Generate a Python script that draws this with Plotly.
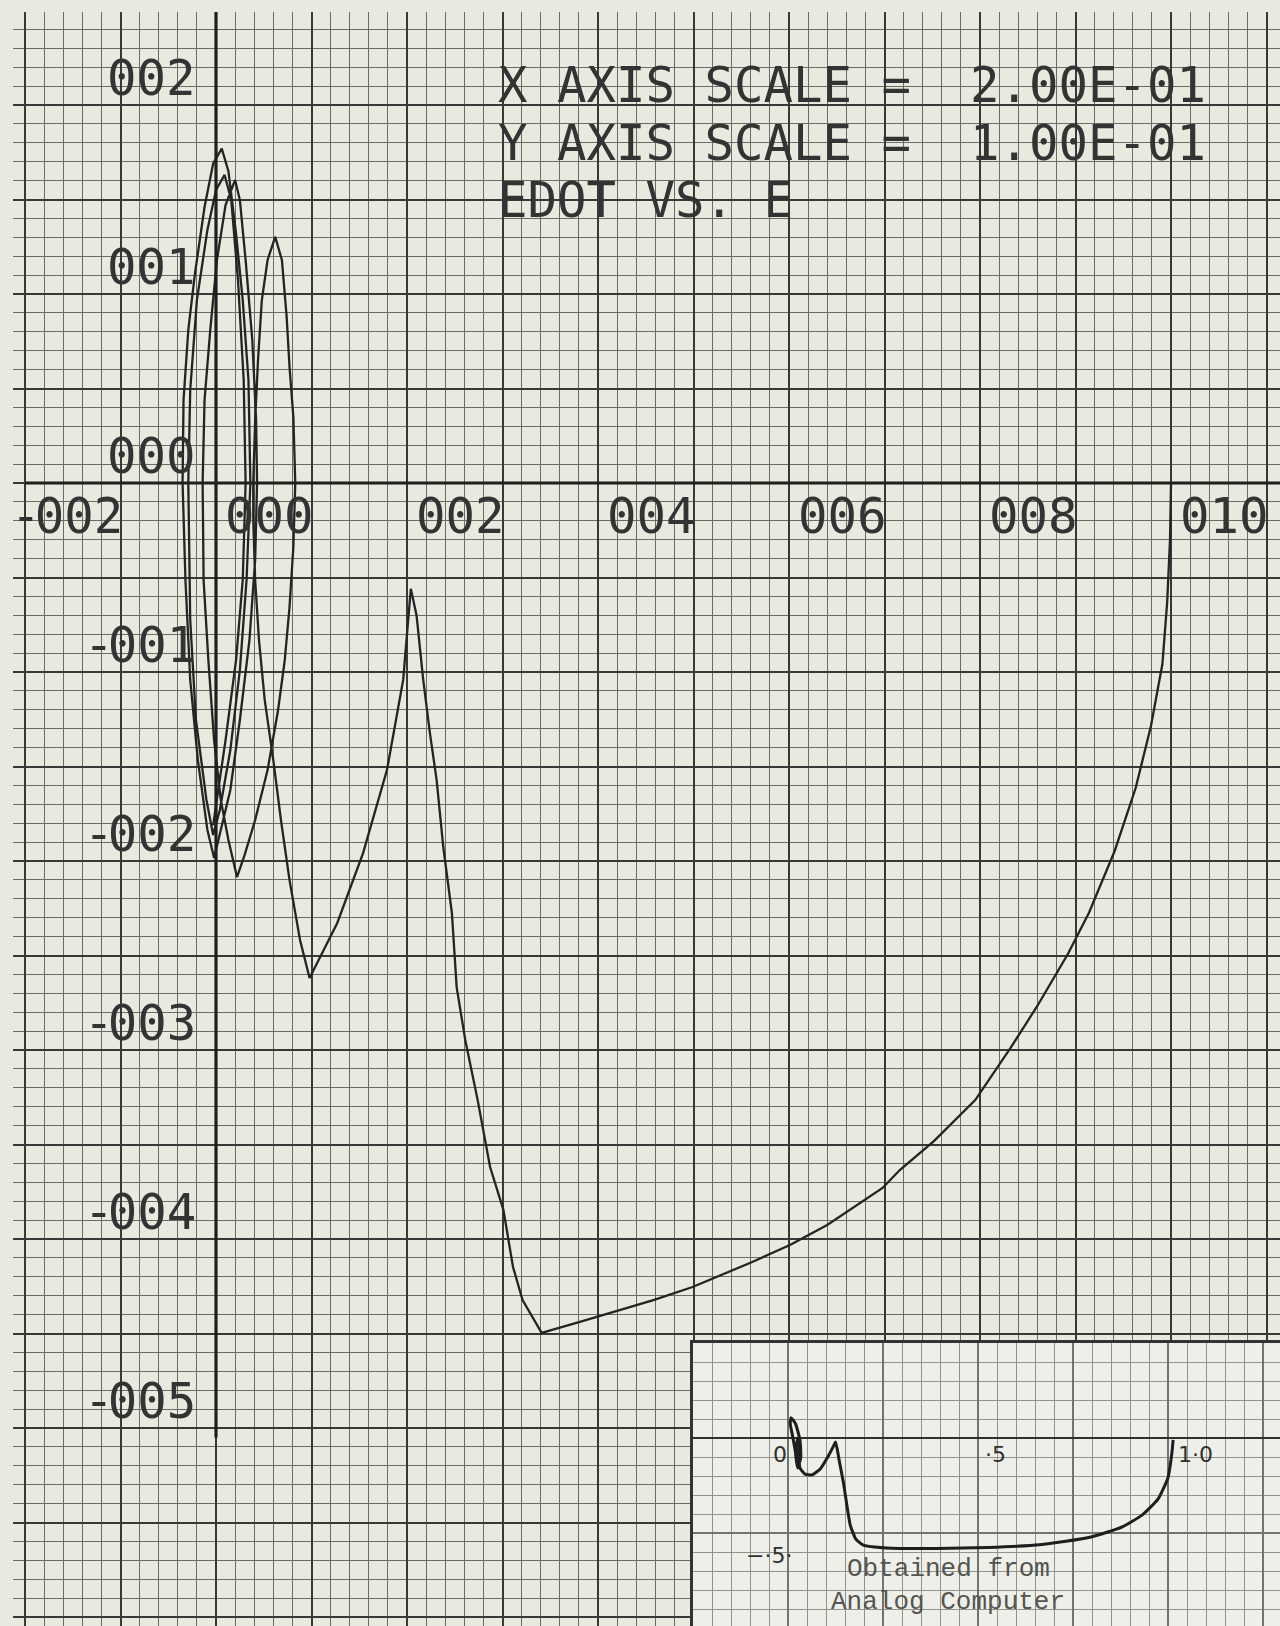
import plotly.graph_objects as go

# ---------------------------------------------------------------
# Phase-plane trace EDOT vs. E (digital plotter output)
# ---------------------------------------------------------------
e_vals = [
    1.000, 0.999, 0.996, 0.991, 0.979, 0.963, 0.941, 0.914, 0.892, 0.860,
    0.832, 0.795, 0.752, 0.716, 0.698, 0.640, 0.601, 0.559, 0.499, 0.458,
    0.381, 0.341,
    0.321, 0.311, 0.301, 0.287, 0.274, 0.261, 0.252, 0.247, 0.238, 0.231,
    0.224, 0.217, 0.210, 0.204,
    0.200, 0.196, 0.179, 0.154, 0.127, 0.098,
    0.088, 0.077, 0.068, 0.060, 0.051, 0.045, 0.041, 0.039, 0.039, 0.041,
    0.044, 0.048, 0.054, 0.062,
    0.069, 0.074, 0.077, 0.081, 0.083, 0.081, 0.077, 0.072, 0.065, 0.054,
    0.041, 0.030, 0.022,
    0.013, 0.005, -0.002, -0.008, -0.013, -0.014, -0.012, -0.006, 0.001,
    0.010, 0.020,
    0.025, 0.031, 0.038, 0.042, 0.043, 0.041, 0.035, 0.025, 0.015, 0.004,
    -0.002,
    -0.009, -0.019, -0.027, -0.032, -0.035, -0.034, -0.029, -0.022, -0.012,
    -0.003, 0.006,
    0.013, 0.021, 0.028, 0.034, 0.036, 0.032, 0.025, 0.015, 0.004, -0.003,
    -0.010, -0.021, -0.027, -0.029, -0.027, -0.020, -0.009, 0.000, 0.009,
    0.016, 0.023, 0.029, 0.031, 0.028, 0.021, 0.010, 0.001, -0.003,
]
edot_vals = [
    0.0000, -0.0296, -0.0630, -0.0958, -0.1286, -0.1614, -0.1947, -0.2275,
    -0.2492, -0.2767, -0.2989, -0.3265, -0.3481, -0.3635, -0.3730, -0.3926,
    -0.4032, -0.4127, -0.4254, -0.4323, -0.4439, -0.4497,
    -0.4323, -0.4148, -0.3847, -0.3619, -0.3265, -0.2947, -0.2667, -0.2275,
    -0.1926, -0.1571, -0.1323, -0.1042, -0.0700, -0.0560,
    -0.0800, -0.1042, -0.1519, -0.1958, -0.2328, -0.2619,
    -0.2418, -0.2101, -0.1783, -0.1466, -0.1148, -0.0831, -0.0513, -0.0196,
    0.0000, 0.0333, 0.0651, 0.0968, 0.1180, 0.1302,
    0.1180, 0.0878, 0.0614, 0.0349, 0.0000, -0.0339, -0.0656, -0.0937,
    -0.1201, -0.1519, -0.1783, -0.1968, -0.2085,
    -0.1889, -0.1677, -0.1360, -0.0937, -0.0513, 0.0000, 0.0439, 0.0810,
    0.1180, 0.1471, 0.1603,
    0.1497, 0.1180, 0.0757, 0.0333, 0.0000, -0.0407, -0.0831, -0.1254,
    -0.1624, -0.1862, -0.1984,
    -0.1836, -0.1466, -0.1042, -0.0513, 0.0000, 0.0439, 0.0810, 0.1110,
    0.1460, 0.1690, 0.1770,
    0.1650, 0.1320, 0.0968, 0.0545, 0.0000, -0.0513, -0.0989, -0.1413,
    -0.1730, -0.1862,
    -0.1677, -0.1254, -0.0725, 0.0000, 0.0492, 0.0968, 0.1339, 0.1550,
    0.1630,
    0.1497, 0.1074, 0.0545, 0.0000, -0.0513, -0.0937, -0.1360, -0.1677,
    -0.1810,
]

# axis annotation of the plotter
x_tick_vals = [-0.2, 0.0, 0.2, 0.4, 0.6, 0.8, 1.0]
x_tick_text = ["-002", "000", "002", "004", "006", "008", "010"]
y_tick_vals = [0.2, 0.1, 0.0, -0.1, -0.2, -0.3, -0.4, -0.5]
y_tick_text = ["002", "001", "000", "-001", "-002", "-003", "-004", "-005"]
header_lines = ["X AXIS SCALE =  2.00E-01",
                "Y AXIS SCALE =  1.00E-01",
                "EDOT VS. E"]

# ---------------------------------------------------------------
# Analog computer trace (pasted-in sketch)
# ---------------------------------------------------------------
analog_e = [0.012, 0.004, -0.004, -0.010, -0.008, 0.004, 0.016, 0.018,
            0.010, 0.004, 0.010, 0.016, 0.030, 0.048, 0.070, 0.090, 0.105,
            0.111, 0.120, 0.132, 0.150, 0.165, 0.185, 0.247, 0.380, 0.518,
            0.655, 0.792, 0.874, 0.929, 0.971, 0.997, 1.008, 1.011]
analog_edot = [-0.126, -0.060, 0.010, 0.060, 0.085, 0.060, -0.010, -0.080,
               -0.126, -0.060, 0.000, -0.126, -0.152, -0.155, -0.130,
               -0.080, -0.035, -0.017, -0.090, -0.189, -0.366, -0.425,
               -0.450, -0.462, -0.464, -0.460, -0.449, -0.416, -0.374,
               -0.323, -0.256, -0.168, -0.059, -0.008]
analog_x_labels = [(0.0, "0"), (0.5, "·5"), (1.0, "1·0")]
analog_y_labels = [(-0.5, "−·5·")]
analog_caption = ["Obtained from", "Analog Computer"]

# ---------------------------------------------------------------
# page geometry (pixels)
# ---------------------------------------------------------------
W, H = 1280, 1626
ML, MT = 13, 12
ORIGIN_X, ORIGIN_Y = 216, 483          # pixel of (0, 0)
PX_PER_X, PX_PER_Y = 955.0, 1890.0     # pixels per data unit
x_lo = (ML - ORIGIN_X) / PX_PER_X
x_hi = (W - ORIGIN_X) / PX_PER_X
y_hi = (ORIGIN_Y - MT) / PX_PER_Y
y_lo = (ORIGIN_Y - H) / PX_PER_Y

INSET_L, INSET_T = 693, 1343
IN_X0, IN_Y0 = 794, 1438
IN_PX_X, IN_PX_Y = 375.0, 238.0
IN_GRID_X0 = 788                       # a major line of the pasted sheet
plot_w, plot_h = W - ML, H - MT


def paper_x(px):
    return (px - ML) / plot_w


def paper_y(py):
    return (H - py) / plot_h


def plotter_text(t):
    # the plotter's minus is a short dash tucked against the digits
    t = t.replace(" ", "&nbsp;")
    if t.startswith("-"):
        t = '<span style="font-family:DejaVu Sans">-</span>' + t[1:]
    return t


PAPER = "#e8e9df"
INSET_PAPER = "#eeefe8"
INK = "#242424"
MAJOR = "#383836"
MINOR = "#6a6b65"

fig = go.Figure()

fig.add_trace(go.Scatter(
    x=e_vals, y=edot_vals, mode="lines",
    line=dict(color=INK, width=2.3),
    xaxis="x", yaxis="y", hoverinfo="skip", showlegend=False))

fig.add_trace(go.Scatter(
    x=analog_e, y=analog_edot, mode="lines",
    line=dict(color="#1e1e1e", width=3.0, shape="spline", smoothing=0.5),
    xaxis="x2", yaxis="y2", hoverinfo="skip", showlegend=False))

fig.update_layout(
    width=W, height=H,
    margin=dict(l=ML, r=0, t=MT, b=0, pad=0),
    paper_bgcolor=PAPER,
    plot_bgcolor=INSET_PAPER,
    showlegend=False,
    xaxis=dict(
        domain=[0, 1], range=[x_lo, x_hi], anchor="y",
        showgrid=True, gridcolor=MAJOR, gridwidth=2.2,
        tick0=0, dtick=0.1, zeroline=False, showticklabels=False,
        ticks="", showline=False,
        minor=dict(showgrid=True, gridcolor=MINOR, gridwidth=1.2,
                   tick0=0, dtick=0.02, ticks=""),
    ),
    yaxis=dict(
        domain=[0, 1], range=[y_lo, y_hi], anchor="x",
        showgrid=True, gridcolor=MAJOR, gridwidth=2.2,
        tick0=0, dtick=0.05, zeroline=False, showticklabels=False,
        ticks="", showline=False,
        minor=dict(showgrid=True, gridcolor=MINOR, gridwidth=1.2,
                   tick0=0, dtick=0.01, ticks=""),
    ),
    xaxis2=dict(
        domain=[paper_x(INSET_L), 1], anchor="y2",
        range=[(INSET_L - IN_X0) / IN_PX_X, (W - IN_X0) / IN_PX_X],
        showgrid=True, gridcolor="#72736d", gridwidth=1.6,
        tick0=(IN_GRID_X0 - IN_X0) / IN_PX_X, dtick=95 / IN_PX_X,
        zeroline=False, showticklabels=False,
        ticks="", side="top", showline=True, linecolor="#333", linewidth=2.5,
        minor=dict(showgrid=True, gridcolor="#92938d", gridwidth=1.0,
                   tick0=(IN_GRID_X0 - IN_X0) / IN_PX_X,
                   dtick=19 / IN_PX_X, ticks=""),
    ),
    yaxis2=dict(
        domain=[0, paper_y(INSET_T)], anchor="x2",
        range=[(IN_Y0 - H) / IN_PX_Y, (IN_Y0 - INSET_T) / IN_PX_Y],
        showgrid=True, gridcolor="#72736d", gridwidth=1.6,
        tick0=0, dtick=95 / IN_PX_Y, zeroline=True, zerolinecolor="#2e2e2e",
        zerolinewidth=2.2, showticklabels=False, ticks="", side="left",
        showline=True, linecolor="#333", linewidth=2.5,
        minor=dict(showgrid=True, gridcolor="#92938d", gridwidth=1.0,
                   tick0=0, dtick=19 / IN_PX_Y, ticks=""),
    ),
)

shapes = [
    # main sheet colour under its own grid
    dict(type="rect", xref="x domain", yref="y domain", x0=0, x1=1, y0=0,
         y1=1, fillcolor=PAPER, line=dict(width=0), layer="below"),
    # plotter axes
    dict(type="line", xref="x", yref="y", x0=-0.2, x1=x_hi, y0=0, y1=0,
         line=dict(color="#1f1f1f", width=3.2)),
    dict(type="line", xref="x", yref="y", x0=0, x1=0, y0=-0.505, y1=y_hi,
         line=dict(color="#1f1f1f", width=3.2)),
]
fig.update_layout(shapes=shapes)

PLOT_FONT = dict(family="DejaVu Sans Mono", size=49, color="#333333")
ann = []
for v, t in zip(x_tick_vals, x_tick_text):
    ann.append(dict(x=v, y=0, xref="x", yref="y", text=plotter_text(t),
                    showarrow=False, xanchor="right", yanchor="middle",
                    xshift=100, yshift=-33, font=PLOT_FONT))
for v, t in zip(y_tick_vals, y_tick_text):
    ann.append(dict(x=0, y=v, xref="x", yref="y", text=plotter_text(t),
                    showarrow=False, xanchor="right", yanchor="middle",
                    xshift=-18, yshift=27, font=PLOT_FONT))
for i, line in enumerate(header_lines):
    ann.append(dict(x=paper_x(496), y=paper_y(85 + 58 * i), xref="paper",
                    yref="paper", text=plotter_text(line),
                    showarrow=False, xanchor="left", yanchor="middle",
                    font=PLOT_FONT))

HAND = dict(family="DejaVu Sans", size=22, color="#303030")
xshifts = {0.0: -14, 0.5: 14, 1.0: 26}
for v, t in analog_x_labels:
    ann.append(dict(x=v, y=0, xref="x2", yref="y2", text=t, showarrow=False,
                    xanchor="center", yanchor="middle", xshift=xshifts[v],
                    yshift=-16, font=HAND))
for v, t in analog_y_labels:
    ann.append(dict(x=0, y=v, xref="x2", yref="y2", text=t, showarrow=False,
                    xanchor="right", yanchor="middle", xshift=0,
                    yshift=2, font=HAND))
for i, line in enumerate(analog_caption):
    ann.append(dict(x=paper_x(948), y=paper_y(1569 + 33 * i), xref="paper",
                    yref="paper", text=line, showarrow=False,
                    xanchor="center", yanchor="middle",
                    font=dict(family="Liberation Mono", size=26,
                              color="#555550")))
fig.update_layout(annotations=ann)

fig.write_html("out.html")
